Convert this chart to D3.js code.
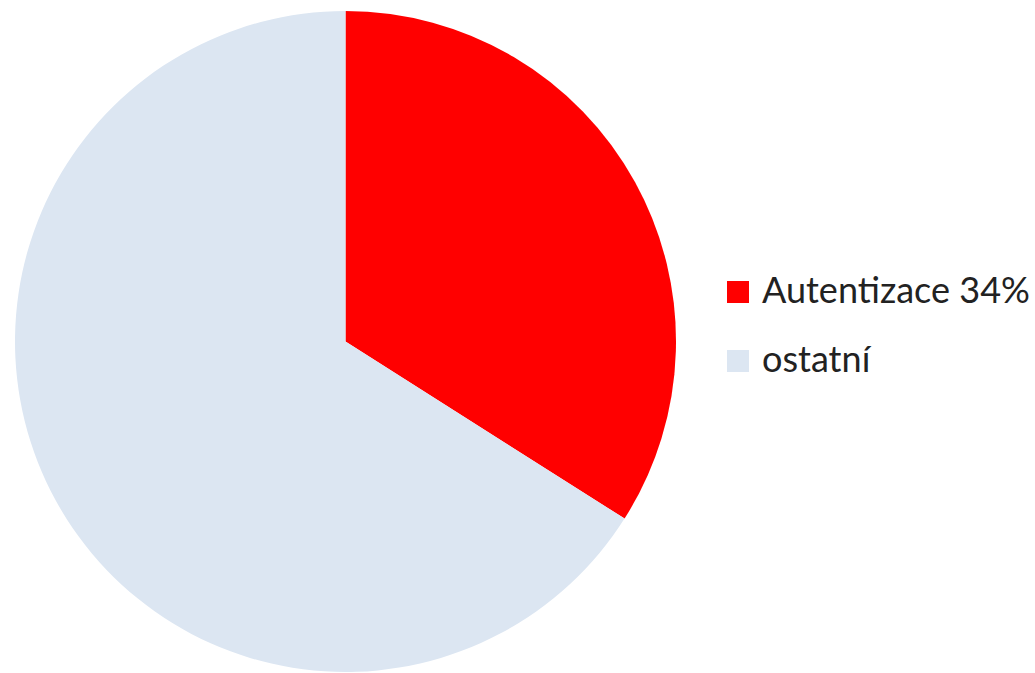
<!DOCTYPE html>
<html>
<head>
<meta charset="utf-8">
<script src="https://cdn.jsdelivr.net/npm/d3@7"></script>
<style>
  html, body { margin: 0; padding: 0; background: #fff; }
  svg { display: block; }
</style>
</head>
<body>
<svg id="chart" width="1035" height="673"></svg>
<script>
// Share of authentication among all items
const categories = ["Autentizace", "ostatní"];
const values = [34, 66];
const legendLabels = ["Autentizace 34%", "ostatní"];
const colors = ["#ff0000", "#dce6f2"];

const svg = d3.select("#chart");
const cx = 345.5, cy = 341.5, radius = 330.5;

const pie = d3.pie().sort(null).value(d => d)(values);
const arc = d3.arc().innerRadius(0).outerRadius(radius);

svg.append("g")
  .attr("transform", `translate(${cx},${cy})`)
  .selectAll("path")
  .data(pie)
  .join("path")
  .attr("d", arc)
  .attr("fill", (d, i) => colors[i]);

// Legend
const legend = svg.append("g").attr("transform", "translate(727,0)");
const rowY = d3.scalePoint().domain(categories).range([292, 361]);

const items = legend.selectAll("g")
  .data(categories)
  .join("g")
  .attr("transform", d => `translate(0,${rowY(d)})`);

items.append("rect")
  .attr("x", 0).attr("y", -11)
  .attr("width", 22).attr("height", 22)
  .attr("fill", (d, i) => colors[i]);

const labels = items.append("text")
  .attr("x", 35).attr("y", 11)
  .attr("font-family", "Lato, 'Open Sans', sans-serif")
  .attr("font-size", 32)
  .attr("fill", "#222")
  .text((d, i) => legendLabels[i]);

// Fit the longest label to the space right of the swatch
const first = labels.node();
const w = first.getComputedTextLength();
const size = 32 * 268 / w;
labels.attr("font-size", size);
</script>
</body>
</html>
